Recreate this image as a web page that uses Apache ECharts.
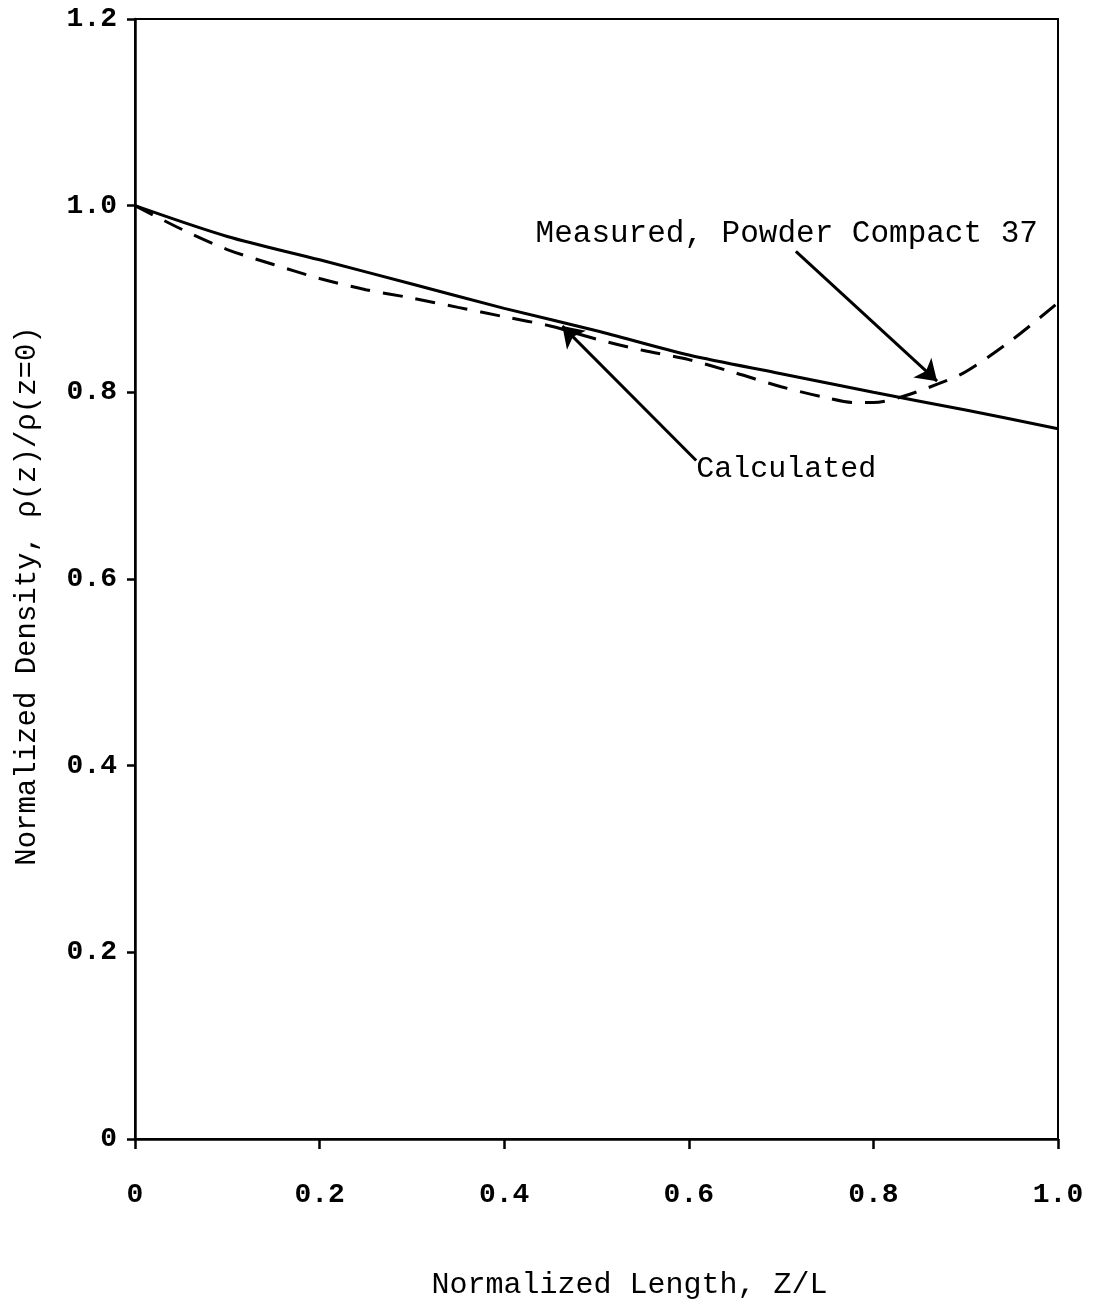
<!DOCTYPE html>
<html>
<head>
<meta charset="utf-8">
<script src="https://cdn.jsdelivr.net/npm/echarts@6/dist/echarts.min.js"></script>
<style>
  html, body { margin: 0; padding: 0; background: #fff; }
  #chart { width: 1094px; height: 1305px; }
</style>
</head>
<body>
<div id="chart"></div>
<script>
// values
const calcX = [0, 0.1, 0.2, 0.3, 0.4, 0.5, 0.6, 0.7, 0.8, 0.9, 1.0]
const calcY = [1.0, 0.967, 0.942, 0.916, 0.890, 0.866, 0.840, 0.820, 0.800, 0.781, 0.761]

const measX = [0, 0.05, 0.1, 0.15, 0.2, 0.25, 0.3, 0.35, 0.4, 0.45, 0.5, 0.55, 0.6, 0.65, 0.7, 0.75, 0.78, 0.8, 0.83, 0.87, 0.9, 0.95, 1.0]
const measY = [1.0, 0.975, 0.953, 0.937, 0.922, 0.910, 0.901, 0.891, 0.881, 0.871, 0.857, 0.845, 0.835, 0.821, 0.806, 0.794, 0.789, 0.789, 0.795, 0.809, 0.822, 0.856, 0.896]

const xTicks = [0, 0.2, 0.4, 0.6, 0.8, 1.0]
const yTicks = [0, 0.2, 0.4, 0.6, 0.8, 1.0, 1.2]

// annotation text + arrows (data coords)
const measLabel = 'Measured, Powder Compact 37'
const measLabelAt = [0.434, 0.970]
const measArrow = [[0.716, 0.951], [0.869, 0.812]]
const calcLabel = 'Calculated'
const calcLabelAt = [0.608, 0.718]
const calcArrow = [[0.608, 0.727], [0.463, 0.871]]

const font = '"Liberation Mono", "DejaVu Sans Mono", monospace'

const pairs = (xs, ys) => xs.map((x, i) => [x, ys[i]])

const chart = echarts.init(document.getElementById('chart'))

const arrowLine = (a) => [
  { coord: a[0], symbol: 'none' },
  { coord: a[1], symbol: 'arrow', symbolSize: 20 }
]
const textPoint = (name, at, size) => ({
  coord: at,
  symbol: 'circle',
  symbolSize: 0,
  label: {
    show: true,
    position: 'right',
    distance: 0,
    formatter: name,
    color: '#000',
    fontFamily: font,
    fontSize: size
  }
})

const option = {
  animation: false,
  backgroundColor: '#fff',
  grid: {
    left: 135,
    right: 36,
    top: 19,
    bottom: 163,
    show: true,
    borderColor: '#000',
    borderWidth: 2
  },
  xAxis: {
    type: 'value',
    min: 0,
    max: 1,
    interval: 0.2,
    name: 'Normalized Length, Z/L',
    nameLocation: 'middle',
    nameGap: 131,
    nameTextStyle: {
      fontFamily: font,
      fontSize: 30,
      color: '#000',
      padding: [0, 0, 0, 66]
    },
    axisLine: { lineStyle: { color: '#000', width: 2.5 } },
    axisTick: { inside: false, length: 10, lineStyle: { color: '#000', width: 2.5 } },
    axisLabel: {
      margin: 42,
      fontFamily: font,
      fontSize: 28,
      fontWeight: 'bold',
      color: '#000',
      customValues: xTicks,
      formatter: (v) => (v === 0 ? '0' : v.toFixed(1))
    },
    splitLine: { show: false }
  },
  yAxis: {
    type: 'value',
    min: 0,
    max: 1.2,
    interval: 0.2,
    name: 'Normalized Density, \u03c1(z)/\u03c1(z=0)',
    nameLocation: 'middle',
    nameGap: 93,
    nameTextStyle: {
      fontFamily: font,
      fontSize: 29,
      color: '#000',
      padding: [0, 34, 0, 0]
    },
    axisLine: { lineStyle: { color: '#000', width: 2.5 } },
    axisTick: { inside: false, length: 8, lineStyle: { color: '#000', width: 2.5 } },
    axisLabel: {
      margin: 18,
      fontFamily: font,
      fontSize: 28,
      fontWeight: 'bold',
      color: '#000',
      customValues: yTicks,
      formatter: (v) => (v === 0 ? '0' : v.toFixed(1))
    },
    splitLine: { show: false }
  },
  series: [
    {
      name: 'Calculated',
      type: 'line',
      smooth: 0.3,
      showSymbol: false,
      data: pairs(calcX, calcY),
      lineStyle: { color: '#000', width: 3 },
      markLine: {
        silent: true,
        symbol: ['none', 'arrow'],
        symbolSize: 20,
        label: { show: false },
        itemStyle: { color: '#000' },
        lineStyle: { color: '#000', width: 3, type: 'solid' },
        data: [arrowLine(calcArrow), arrowLine(measArrow)]
      },
      markPoint: {
        silent: true,
        data: [textPoint(measLabel, measLabelAt, 31), textPoint(calcLabel, calcLabelAt, 30)]
      }
    },
    {
      name: 'Measured',
      type: 'line',
      smooth: 0.3,
      showSymbol: false,
      data: pairs(measX, measY),
      lineStyle: { color: '#000', width: 3, type: [20, 13] }
    }
  ]
}

chart.setOption(option)
window.addEventListener('resize', () => chart.resize())
</script>
</body>
</html>
